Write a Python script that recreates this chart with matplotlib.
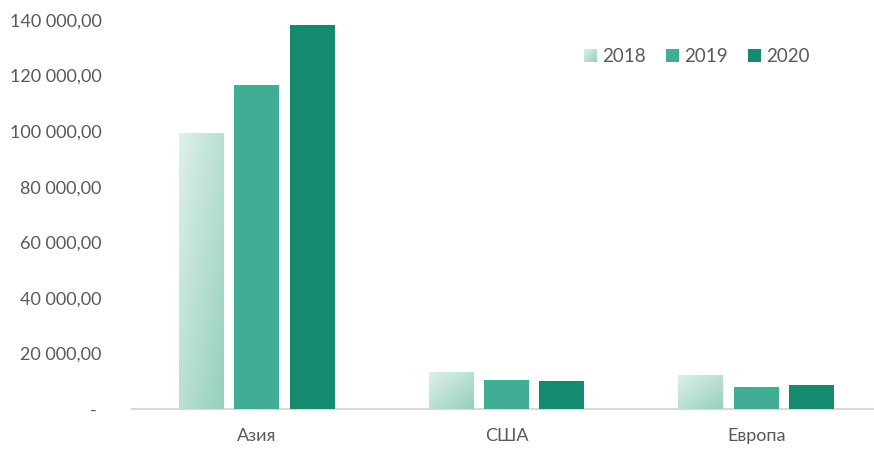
import numpy as np
import matplotlib
matplotlib.use("Agg")
import matplotlib.pyplot as plt
from matplotlib.patches import Rectangle
from matplotlib.legend_handler import HandlerBase
from matplotlib.colors import LinearSegmentedColormap

categories = ["Азия", "США", "Европа"]
years = ["2018", "2019", "2020"]
values_2018 = [99100, 13300, 11900]
values_2019 = [116700, 10300, 7900]
values_2020 = [138100, 10200, 8600]
yticks = [0, 20000, 40000, 60000, 80000, 100000, 120000, 140000]
ytick_labels = ["- ", "20 000,00", "40 000,00", "60 000,00", "80 000,00",
                "100 000,00", "120 000,00", "140 000,00"]

light_a = np.array([222, 240, 234]) / 255
light_b = np.array([150, 208, 186]) / 255
c2019 = "#41ad94"
c2020 = "#168a6e"
text_col = "#595959"
grad_cmap = LinearSegmentedColormap.from_list("g", [light_a, light_b])

plt.rcParams['font.family'] = ['Lato', 'DejaVu Sans']
fs = 13

fig = plt.figure(figsize=(8.74, 4.49), dpi=100)
ax = fig.add_axes([132 / 874, 1 - 409 / 449, 749 / 874, 389 / 449])

x = np.arange(len(categories))
w = 0.18
off = 0.222

n = 64
u = np.linspace(0, 1, n)
U, V = np.meshgrid(u, u)
grad = (U + V) / 2.0

for xi, val in zip(x - off, values_2018):
    ax.imshow(grad, cmap=grad_cmap, extent=(xi - w / 2, xi + w / 2, 0, val),
              aspect='auto', interpolation='bilinear', origin='upper', zorder=2)
ax.bar(x, values_2019, width=w, color=c2019, zorder=2)
ax.bar(x + off, values_2020, width=w, color=c2020, zorder=2)

ax.set_xlim(-0.5, 2.5)
ax.set_ylim(0, 140000)
ax.set_yticks(yticks)
ax.set_yticklabels(ytick_labels)
ax.set_xticks(x)
ax.set_xticklabels(categories)
ax.tick_params(axis='both', length=0, labelsize=fs, labelcolor=text_col)
ax.tick_params(axis='y', pad=22)
ax.tick_params(axis='x', pad=14)
for s in ['top', 'right', 'left']:
    ax.spines[s].set_visible(False)
ax.spines['bottom'].set_color('#d9d9d9')
ax.spines['bottom'].set_linewidth(1.5)
ax.spines['bottom'].set_zorder(1)


class GradHandler(HandlerBase):
    def create_artists(self, legend, orig_handle, xdescent, ydescent, width, height, fontsize, trans):
        arts = []
        k = 8
        for i in range(k):
            for j in range(k):
                t = ((i + 0.5) / k + (1 - (j + 0.5) / k)) / 2
                col = light_a + (light_b - light_a) * t
                r = Rectangle((-xdescent + i * width / k, -ydescent + j * height / k),
                              width / k + 0.05, height / k + 0.05, facecolor=col,
                              edgecolor='none', transform=trans)
                arts.append(r)
        return arts


h18 = Rectangle((0, 0), 1, 1, facecolor=light_b)
h19 = Rectangle((0, 0), 1, 1, facecolor=c2019)
h20 = Rectangle((0, 0), 1, 1, facecolor=c2020)
leg = fig.legend([h18, h19, h20], years, loc='center',
                 bbox_to_anchor=(697 / 874, 1 - 56.5 / 449), ncol=3, frameon=False,
                 fontsize=13.5, handlelength=0.65, handleheight=0.65, handletextpad=0.3,
                 columnspacing=1.1, handler_map={h18: GradHandler()})
for t in leg.get_texts():
    t.set_color(text_col)

fig.savefig("out.png", dpi=100)
